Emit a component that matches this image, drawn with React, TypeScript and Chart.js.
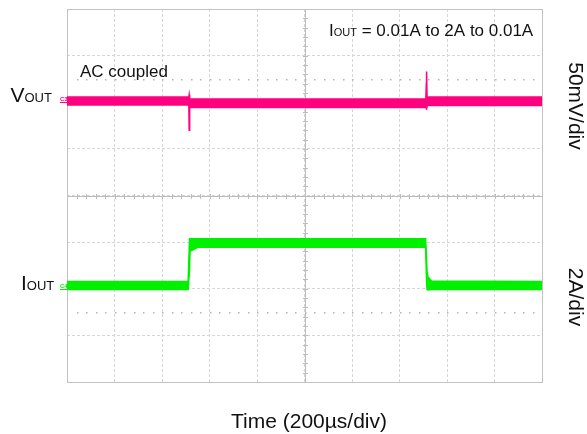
import React, { useEffect, useRef } from "react";
import { Chart, registerables } from "chart.js";

Chart.register(...registerables);

// ---- Data (time in µs, 200 µs/div; VOUT in mV AC coupled, 50 mV/div; IOUT in A, 2 A/div) ----
const vTime = [-1000, -487, -485.5, -484, -483, 511, 513, 514, 516, 517, 1000];
const vUpper = [5.5, 5.5, 8, 3.5, 3.5, 3.5, 20, 33, 5.5, 5.5, 5.5];
const vLower = [-3, -3, -30, -12, -5.5, -5.5, -5.5, -8, -4, -3.5, -3.5];

const iTime = [-1000, -490, -484, -482, -450, 510, 514, 516, 520, 535, 1000];
const iUpper = [0.31, 0.31, 2.15, 2.15, 2.15, 2.15, 1.2, 0.75, 0.5, 0.33, 0.31];
const iLower = [-0.03, -0.03, 0.8, 1.6, 1.78, 1.78, 0.3, -0.03, -0.05, -0.03, -0.03];

// reference dotted levels (in VOUT-axis mV)
const refLevels = [25, -225];

const V_COLOR = "#ff0080";
const I_COLOR = "#00f000";
const FONT = "'Liberation Sans', Arial, sans-serif";
const TEXT = "#111111";

const toPts = (ts: number[], vs: number[]) => ts.map((t, i) => ({ x: t, y: vs[i] }));

function drawSub(ctx: CanvasRenderingContext2D, x: number, y: number, main: string, sub: string, ms: number, ss: number, rest = "") {
  ctx.font = `${ms}px ${FONT}`;
  ctx.fillText(main, x, y);
  let cx = x + ctx.measureText(main).width;
  ctx.font = `${ss}px ${FONT}`;
  ctx.fillText(sub, cx, y);
  cx += ctx.measureText(sub).width;
  if (rest) {
    ctx.font = `${ms}px ${FONT}`;
    ctx.fillText(rest, cx, y);
  }
}

const scopePlugin = {
  id: "scopeDecor",
  beforeDatasetsDraw(chart: any) {
    const { ctx, chartArea, scales } = chart;
    const { left, right, top, bottom } = chartArea;
    const x = scales.x;
    const yV = scales.yV;
    ctx.save();
    const cx = Math.round(x.getPixelForValue(0)) + 0.5;
    const cy = Math.round(yV.getPixelForValue(-100)) + 0.5;
    ctx.strokeStyle = "#bdbdbd";
    ctx.lineWidth = 1;
    ctx.setLineDash([]);
    ctx.beginPath();
    ctx.moveTo(left, cy);
    ctx.lineTo(right, cy);
    ctx.moveTo(cx, top);
    ctx.lineTo(cx, bottom);
    for (let t = x.min; t <= x.max; t += 40) {
      const px = Math.round(x.getPixelForValue(t)) + 0.5;
      ctx.moveTo(px, cy - 2.5);
      ctx.lineTo(px, cy + 2.5);
    }
    for (let v = yV.min; v <= yV.max; v += 10) {
      const py = Math.round(yV.getPixelForValue(v)) + 0.5;
      ctx.moveTo(cx - 2.5, py);
      ctx.lineTo(cx + 2.5, py);
    }
    ctx.stroke();
    ctx.fillStyle = "#b4b4b4";
    for (const lvl of refLevels) {
      const py = Math.round(yV.getPixelForValue(lvl));
      for (let t = x.min + 40; t < x.max; t += 40) {
        const px = Math.round(x.getPixelForValue(t));
        ctx.fillRect(px, py, 1.5, 1.5);
      }
    }
    ctx.strokeStyle = "#c2c2c2";
    ctx.strokeRect(left + 0.5, top + 0.5, right - left, bottom - top);
    ctx.restore();
  },
  afterDraw(chart: any) {
    const { ctx, scales } = chart;
    const yV = scales.yV;
    const yI = scales.yI;
    const left = chart.chartArea.left;
    ctx.save();
    ctx.fillStyle = TEXT;
    ctx.textBaseline = "alphabetic";
    ctx.textAlign = "left";
    drawSub(ctx, 10.5, 102, "V", "OUT", 21, 13);
    drawSub(ctx, 21, 290, "I", "OUT", 21, 13);
    ctx.font = `17px ${FONT}`;
    ctx.fillText("AC coupled", 80, 77);
    drawSub(ctx, 329, 36, "I", "OUT", 17, 11, " = 0.01A to 2A to 0.01A");

    ctx.font = `21px ${FONT}`;
    ctx.textAlign = "center";
    ctx.fillText("Time (200µs/div)", 309, 428);

    ctx.textBaseline = "middle";
    const rot = (txt: string, px: number, py: number) => {
      ctx.save();
      ctx.translate(px, py);
      ctx.rotate(Math.PI / 2);
      ctx.fillText(txt, 0, 0);
      ctx.restore();
    };
    rot("50mV/div", 575, 106);
    rot("2A/div", 575, 297);

    // channel markers
    const mark = (label: string, color: string, py: number) => {
      ctx.fillStyle = color;
      ctx.strokeStyle = color;
      ctx.font = `bold 6px ${FONT}`;
      ctx.textAlign = "left";
      ctx.textBaseline = "alphabetic";
      ctx.fillText(label, left - 7, py - 1);
      ctx.lineWidth = 1;
      ctx.beginPath();
      ctx.moveTo(left - 7, py + 0.5);
      ctx.lineTo(left, py + 0.5);
      ctx.stroke();
    };
    mark("C3", V_COLOR, Math.round(yV.getPixelForValue(0)));
    mark("C4", I_COLOR, Math.round(yI.getPixelForValue(0)));
    ctx.restore();
  },
};

export default function App() {
  const ref = useRef<HTMLCanvasElement>(null);
  useEffect(() => {
    const gridCommon = {
      color: "#d6d6d6",
      lineWidth: 1,
      drawTicks: false,
    };
    const chart = new Chart(ref.current as HTMLCanvasElement, {
      type: "line",
      data: {
        datasets: [
          {
            label: "VOUT max",
            data: toPts(vTime, vUpper),
            yAxisID: "yV",
            borderColor: V_COLOR,
            backgroundColor: V_COLOR,
            borderWidth: 1.5,
            pointRadius: 0,
            tension: 0,
            fill: "+1",
          },
          {
            label: "VOUT min",
            data: toPts(vTime, vLower),
            yAxisID: "yV",
            borderColor: V_COLOR,
            backgroundColor: V_COLOR,
            borderWidth: 1.5,
            pointRadius: 0,
            tension: 0,
            fill: false,
          },
          {
            label: "IOUT max",
            data: toPts(iTime, iUpper),
            yAxisID: "yI",
            borderColor: I_COLOR,
            backgroundColor: I_COLOR,
            borderWidth: 1.5,
            pointRadius: 0,
            tension: 0,
            fill: "+1",
          },
          {
            label: "IOUT min",
            data: toPts(iTime, iLower),
            yAxisID: "yI",
            borderColor: I_COLOR,
            backgroundColor: I_COLOR,
            borderWidth: 1.5,
            pointRadius: 0,
            tension: 0,
            fill: false,
          },
        ],
      },
      options: {
        responsive: false,
        animation: false,
        devicePixelRatio: 1,
        layout: { padding: { left: 67, top: 9, right: 45, bottom: 52 } },
        plugins: {
          legend: { display: false },
          tooltip: { enabled: false },
        },
        scales: {
          x: {
            type: "linear",
            min: -1000,
            max: 1000,
            ticks: { display: false, stepSize: 200 },
            grid: gridCommon,
            border: { display: false, dash: [3, 2] },
          },
          yV: {
            type: "linear",
            position: "left",
            min: -300,
            max: 100,
            ticks: { display: false, stepSize: 50 },
            grid: gridCommon,
            border: { display: false, dash: [3, 2] },
          },
          yI: {
            type: "linear",
            display: false,
            min: -4,
            max: 12,
          },
        },
      },
      plugins: [scopePlugin],
    } as any);
    return () => chart.destroy();
  }, []);
  return (
    <div style={{ position: "absolute", left: 0, top: 0, width: 587, height: 434, background: "#fff" }}>
      <canvas ref={ref} width={587} height={434} style={{ display: "block" }} />
    </div>
  );
}
